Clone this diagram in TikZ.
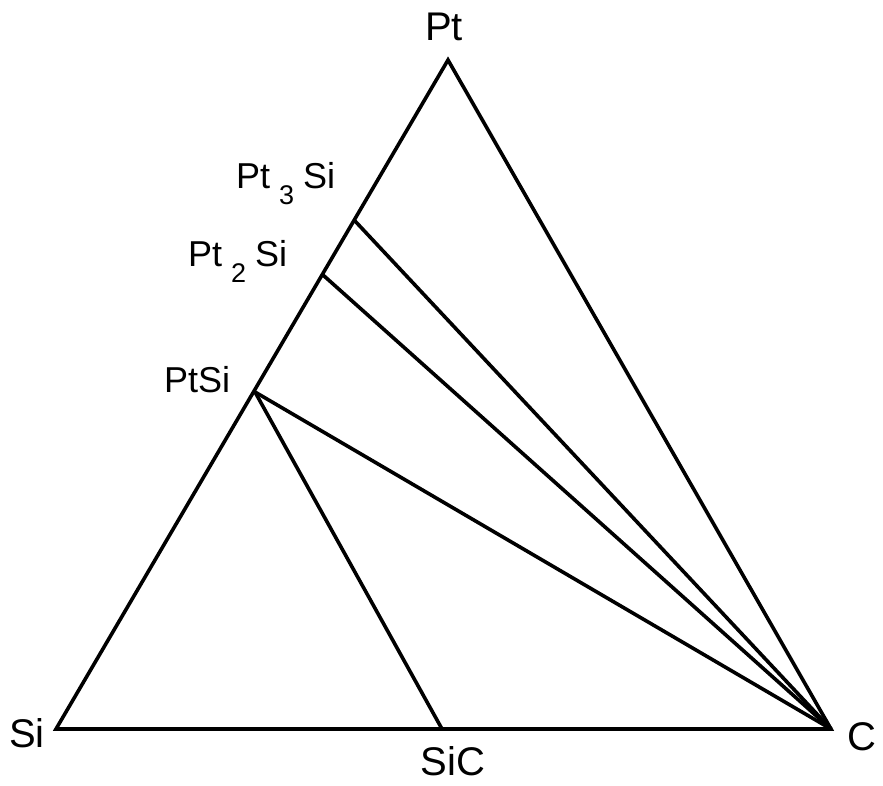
\documentclass[tikz,border=0pt]{standalone}
\usepackage{fontspec}
\setmainfont{Liberation Sans}
\begin{document}
\begin{tikzpicture}[x=1pt,y=-1pt,
  edge/.style={line width=3.6pt,line join=miter},
  corner/.style={inner sep=0pt,font=\fontsize{40}{42}\selectfont},
  comp/.style={inner sep=0pt,anchor=base west,font=\fontsize{36}{38}\selectfont}]
\useasboundingbox (0,0) rectangle (883,786);
\coordinate (Pt) at (448,60);
\coordinate (Si) at (56,729);
\coordinate (C) at (831,729);
\coordinate (SiC) at (442,729);
\coordinate (PtSi) at (255,392);
\coordinate (PtTwoSi) at (323,275);
\coordinate (PtThreeSi) at (355,221);
\draw[edge] (Si) -- (Pt) -- (C) -- cycle;
\draw[edge] (PtThreeSi) -- (C);
\draw[edge] (PtTwoSi) -- (C);
\draw[edge] (PtSi) -- (C);
\draw[edge] (PtSi) -- (SiC);
\node[corner,anchor=base] (lPt) at (444,41) {Pt};
\node[corner,anchor=base] (lSi) at (27,747) {Si};
\node[corner,anchor=base] (lC) at (862,750) {C};
\node[corner,anchor=base] (lSiC) at (453,775) {SiC};
\node[comp] (lPtSi) at (164,392) {PtSi};
\node[comp] (lPtThreeSi) at (236,189) {Pt\hspace{9pt}\raisebox{-16pt}{\fontsize{27}{27}\selectfont 3}\hspace{9pt}Si};
\node[comp] (lPtTwoSi) at (188,267) {Pt\hspace{9pt}\raisebox{-16pt}{\fontsize{27}{27}\selectfont 2}\hspace{9pt}Si};
\end{tikzpicture}
\end{document}
